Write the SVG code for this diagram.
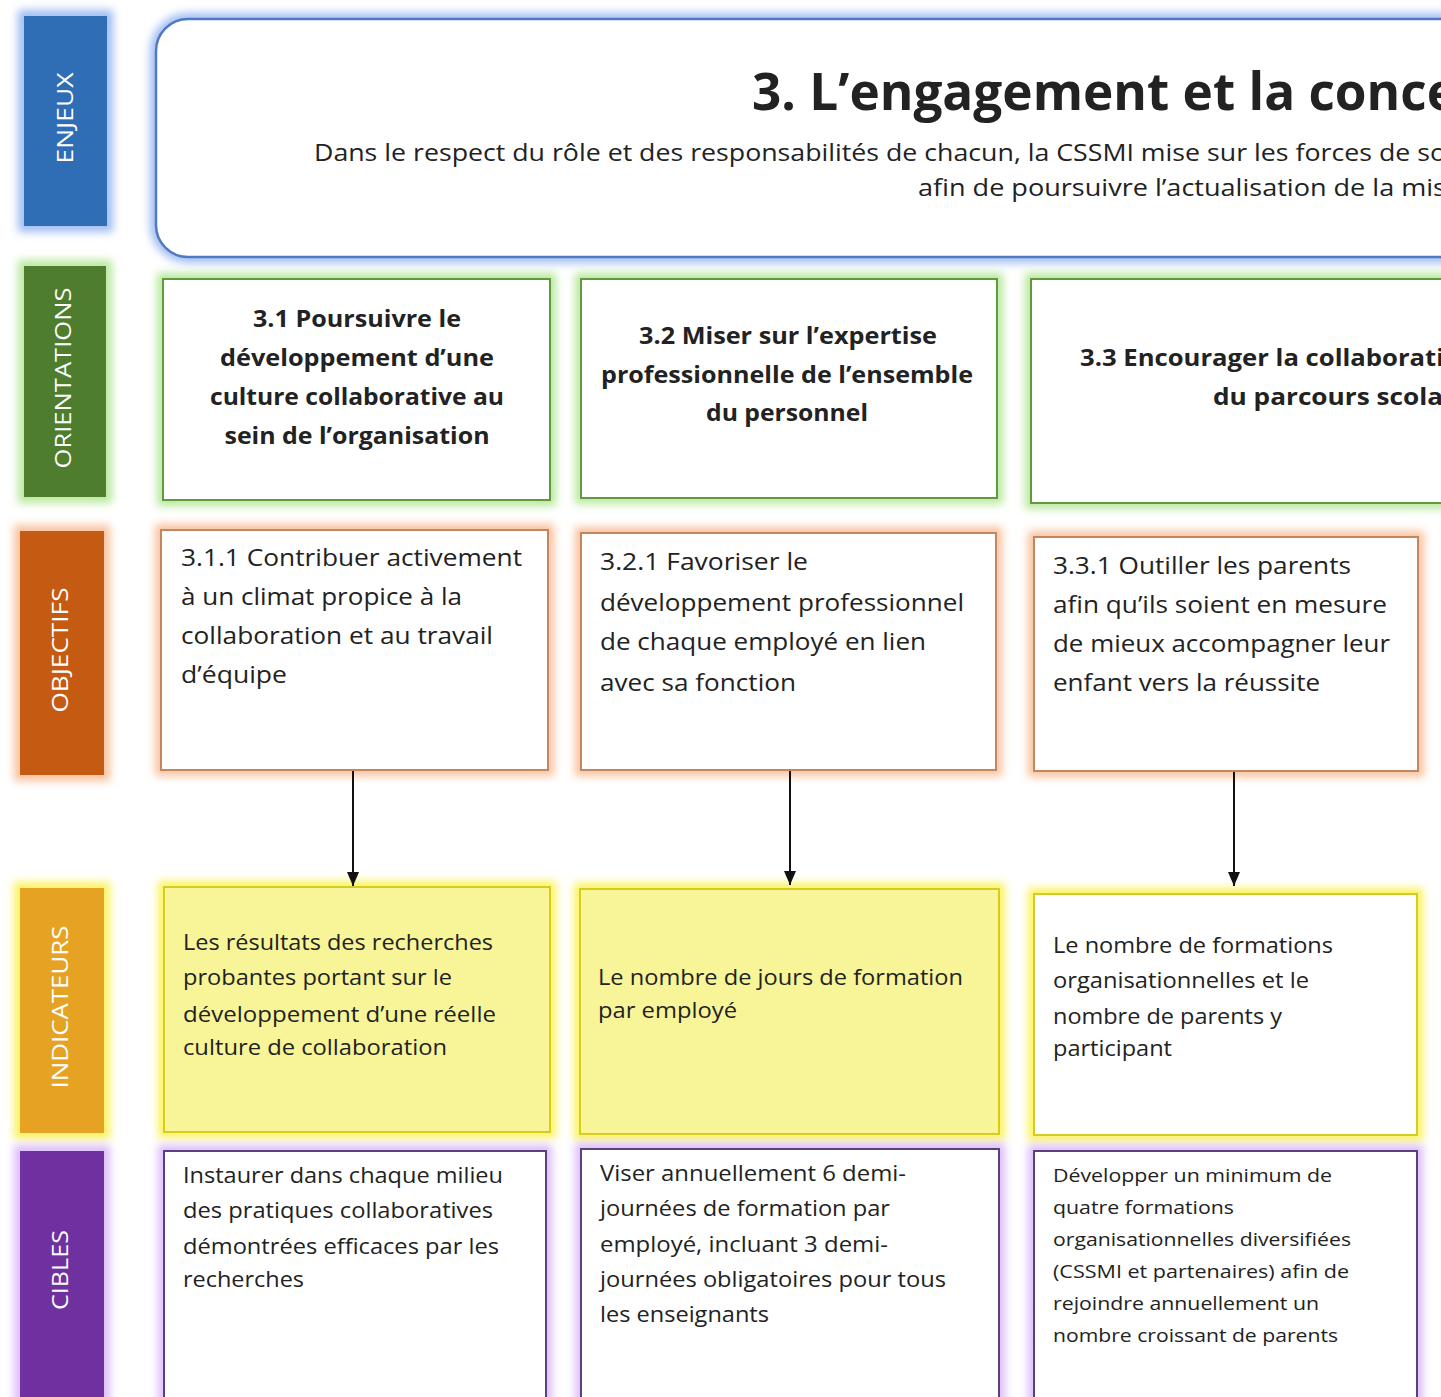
<svg xmlns="http://www.w3.org/2000/svg" width="1441" height="1397" viewBox="0 0 1441 1397">
<defs>
<filter id="blur" x="-20%" y="-20%" width="140%" height="140%"><feGaussianBlur stdDeviation="4"/></filter>
<marker id="arr" viewBox="0 0 14 12" refX="14" refY="6" markerWidth="14" markerHeight="12" markerUnits="userSpaceOnUse" orient="auto"><path d="M0,0 L14,6 L0,12 Z" fill="#111"/></marker>
<style>
text{font-family:"Open Sans","Noto Sans","Liberation Sans",sans-serif;fill:#222}
.lab{fill:#fff;font-size:22px;text-anchor:middle}
.g-blue{fill:none;stroke:#9fbcf3;stroke-width:12}
.g-green{fill:none;stroke:#b8e89c;stroke-width:12}
.g-orange{fill:none;stroke:#f8c19c;stroke-width:12}
.g-yellow{fill:none;stroke:#fbf35c;stroke-width:12}
.g-purple{fill:none;stroke:#dcbcfb;stroke-width:12}
.ori{fill:#fff;stroke:#5f9a3c;stroke-width:2}
.obj{fill:#fff;stroke:#c4875d;stroke-width:2}
.ind{fill:#f8f598;stroke:#d6cb20;stroke-width:2}
.indw{fill:#fff;stroke:#d6cb20;stroke-width:2}
.cib{fill:#fff;stroke:#5c3f7e;stroke-width:2}
.ot{font-size:24px;font-weight:bold;text-anchor:middle}
.ot3{font-size:24px;font-weight:bold}
.bt{font-size:23px}
.it{font-size:21px}
.ct{font-size:18px}
.con{stroke:#111;stroke-width:2;fill:none}
</style>
</defs>
<rect width="1441" height="1397" fill="#fff"/>

<g id="label-enjeux">
<rect class="g-blue" x="24" y="16" width="83" height="210" filter="url(#blur)"/>
<rect x="24" y="16" width="83" height="210" fill="#2f6db5"/>
<text class="lab" transform="translate(73,118) rotate(-90)" textLength="91" lengthAdjust="spacingAndGlyphs">ENJEUX</text>
</g>
<g id="label-orientations">
<rect class="g-green" x="24" y="266" width="82" height="231" filter="url(#blur)"/>
<rect x="24" y="266" width="82" height="231" fill="#4e7d2d"/>
<text class="lab" transform="translate(71,378) rotate(-90)" textLength="181" lengthAdjust="spacingAndGlyphs">ORIENTATIONS</text>
</g>
<g id="label-objectifs">
<rect class="g-orange" x="20" y="531" width="84" height="244" filter="url(#blur)"/>
<rect x="20" y="531" width="84" height="244" fill="#c55a12"/>
<text class="lab" transform="translate(68,650) rotate(-90)" textLength="125" lengthAdjust="spacingAndGlyphs">OBJECTIFS</text>
</g>
<g id="label-indicateurs">
<rect class="g-yellow" x="20" y="888" width="84" height="245" filter="url(#blur)"/>
<rect x="20" y="888" width="84" height="245" fill="#e6a323"/>
<text class="lab" transform="translate(68,1007) rotate(-90)" textLength="163" lengthAdjust="spacingAndGlyphs">INDICATEURS</text>
</g>
<g id="label-cibles">
<rect class="g-purple" x="20" y="1151" width="84" height="250" filter="url(#blur)"/>
<rect x="20" y="1151" width="84" height="250" fill="#7031a0"/>
<text class="lab" transform="translate(68,1270) rotate(-90)" textLength="80" lengthAdjust="spacingAndGlyphs">CIBLES</text>
</g>

<g id="enjeu-3">
<rect class="g-blue" x="156" y="19" width="1320" height="238" rx="32" filter="url(#blur)"/>
<rect x="156" y="19" width="1320" height="238" rx="32" fill="#fff" stroke="#4f79c2" stroke-width="2.5"/>
<text x="752" y="110" font-size="52" font-weight="bold" fill="#111" textLength="705" lengthAdjust="spacingAndGlyphs">3. L’engagement et la conce</text>
<text x="314" y="161" font-size="23" textLength="1132" lengthAdjust="spacingAndGlyphs">Dans le respect du rôle et des responsabilités de chacun, la CSSMI mise sur les forces de so</text>
<text x="918" y="196" font-size="23" textLength="528" lengthAdjust="spacingAndGlyphs">afin de poursuivre l’actualisation de la mis</text>
</g>

<g id="orientation-3-1">
<rect class="g-green" x="163" y="279" width="387" height="221" filter="url(#blur)"/>
<rect class="ori" x="163" y="279" width="387" height="221"/>
<text class="ot" x="357" y="327" textLength="208" lengthAdjust="spacingAndGlyphs">3.1 Poursuivre le</text>
<text class="ot" x="357" y="366" textLength="274" lengthAdjust="spacingAndGlyphs">développement d’une</text>
<text class="ot" x="357" y="405" textLength="294" lengthAdjust="spacingAndGlyphs">culture collaborative au</text>
<text class="ot" x="357" y="444" textLength="265" lengthAdjust="spacingAndGlyphs">sein de l’organisation</text>
</g>
<g id="orientation-3-2">
<rect class="g-green" x="581" y="279" width="416" height="219" filter="url(#blur)"/>
<rect class="ori" x="581" y="279" width="416" height="219"/>
<text class="ot" x="788" y="344" textLength="298" lengthAdjust="spacingAndGlyphs">3.2 Miser sur l’expertise</text>
<text class="ot" x="787" y="383" textLength="372" lengthAdjust="spacingAndGlyphs">professionnelle de l’ensemble</text>
<text class="ot" x="787" y="421" textLength="162" lengthAdjust="spacingAndGlyphs">du personnel</text>
</g>
<g id="orientation-3-3">
<rect class="g-green" x="1031" y="279" width="440" height="224" filter="url(#blur)"/>
<rect class="ori" x="1031" y="279" width="440" height="224"/>
<text class="ot3" x="1080" y="366" textLength="364" lengthAdjust="spacingAndGlyphs">3.3 Encourager la collaborati</text>
<text class="ot3" x="1213" y="405" textLength="230" lengthAdjust="spacingAndGlyphs">du parcours scola</text>
</g>

<g id="objectif-3-1-1">
<rect class="g-orange" x="161" y="530" width="387" height="240" filter="url(#blur)"/>
<rect class="obj" x="161" y="530" width="387" height="240"/>
<text class="bt" x="181" y="566" textLength="341" lengthAdjust="spacingAndGlyphs">3.1.1 Contribuer activement</text>
<text class="bt" x="181" y="605" textLength="281" lengthAdjust="spacingAndGlyphs">à un climat propice à la</text>
<text class="bt" x="181" y="644" textLength="312" lengthAdjust="spacingAndGlyphs">collaboration et au travail</text>
<text class="bt" x="181" y="683" textLength="106" lengthAdjust="spacingAndGlyphs">d’équipe</text>
</g>
<g id="objectif-3-2-1">
<rect class="g-orange" x="581" y="533" width="415" height="237" filter="url(#blur)"/>
<rect class="obj" x="581" y="533" width="415" height="237"/>
<text class="bt" x="600" y="570" textLength="208" lengthAdjust="spacingAndGlyphs">3.2.1 Favoriser le</text>
<text class="bt" x="600" y="611" textLength="364" lengthAdjust="spacingAndGlyphs">développement professionnel</text>
<text class="bt" x="600" y="650" textLength="326" lengthAdjust="spacingAndGlyphs">de chaque employé en lien</text>
<text class="bt" x="600" y="691" textLength="196" lengthAdjust="spacingAndGlyphs">avec sa fonction</text>
</g>
<g id="objectif-3-3-1">
<rect class="g-orange" x="1034" y="537" width="384" height="234" filter="url(#blur)"/>
<rect class="obj" x="1034" y="537" width="384" height="234"/>
<text class="bt" x="1053" y="574" textLength="298" lengthAdjust="spacingAndGlyphs">3.3.1 Outiller les parents</text>
<text class="bt" x="1053" y="613" textLength="334" lengthAdjust="spacingAndGlyphs">afin qu’ils soient en mesure</text>
<text class="bt" x="1053" y="652" textLength="337" lengthAdjust="spacingAndGlyphs">de mieux accompagner leur</text>
<text class="bt" x="1053" y="691" textLength="267" lengthAdjust="spacingAndGlyphs">enfant vers la réussite</text>
</g>

<g id="indicateur-1">
<rect class="g-yellow" x="164" y="887" width="386" height="245" filter="url(#blur)"/>
<rect class="ind" x="164" y="887" width="386" height="245"/>
<text class="it" x="183" y="950" textLength="310" lengthAdjust="spacingAndGlyphs">Les résultats des recherches</text>
<text class="it" x="183" y="985" textLength="269" lengthAdjust="spacingAndGlyphs">probantes portant sur le</text>
<text class="it" x="183" y="1022" textLength="313" lengthAdjust="spacingAndGlyphs">développement d’une réelle</text>
<text class="it" x="183" y="1055" textLength="264" lengthAdjust="spacingAndGlyphs">culture de collaboration</text>
</g>
<g id="indicateur-2">
<rect class="g-yellow" x="580" y="889" width="419" height="245" filter="url(#blur)"/>
<rect class="ind" x="580" y="889" width="419" height="245"/>
<text class="it" x="598" y="985" textLength="365" lengthAdjust="spacingAndGlyphs">Le nombre de jours de formation</text>
<text class="it" x="598" y="1018" textLength="139" lengthAdjust="spacingAndGlyphs">par employé</text>
</g>
<g id="indicateur-3">
<rect class="g-yellow" x="1034" y="894" width="383" height="241" filter="url(#blur)"/>
<rect class="indw" x="1034" y="894" width="383" height="241"/>
<text class="it" x="1053" y="953" textLength="280" lengthAdjust="spacingAndGlyphs">Le nombre de formations</text>
<text class="it" x="1053" y="988" textLength="256" lengthAdjust="spacingAndGlyphs">organisationnelles et le</text>
<text class="it" x="1053" y="1024" textLength="229" lengthAdjust="spacingAndGlyphs">nombre de parents y</text>
<text class="it" x="1053" y="1056" textLength="119" lengthAdjust="spacingAndGlyphs">participant</text>
</g>

<g id="cible-1">
<rect class="g-purple" x="164" y="1151" width="382" height="260" filter="url(#blur)"/>
<rect class="cib" x="164" y="1151" width="382" height="260"/>
<text class="it" x="183" y="1183" textLength="320" lengthAdjust="spacingAndGlyphs">Instaurer dans chaque milieu</text>
<text class="it" x="183" y="1218" textLength="310" lengthAdjust="spacingAndGlyphs">des pratiques collaboratives</text>
<text class="it" x="183" y="1254" textLength="316" lengthAdjust="spacingAndGlyphs">démontrées efficaces par les</text>
<text class="it" x="183" y="1287" textLength="121" lengthAdjust="spacingAndGlyphs">recherches</text>
</g>
<g id="cible-2">
<rect class="g-purple" x="581" y="1149" width="418" height="260" filter="url(#blur)"/>
<rect class="cib" x="581" y="1149" width="418" height="260"/>
<text class="it" x="600" y="1181" textLength="306" lengthAdjust="spacingAndGlyphs">Viser annuellement 6 demi-</text>
<text class="it" x="600" y="1216" textLength="290" lengthAdjust="spacingAndGlyphs">journées de formation par</text>
<text class="it" x="600" y="1252" textLength="288" lengthAdjust="spacingAndGlyphs">employé, incluant 3 demi-</text>
<text class="it" x="600" y="1287" textLength="346" lengthAdjust="spacingAndGlyphs">journées obligatoires pour tous</text>
<text class="it" x="600" y="1322" textLength="169" lengthAdjust="spacingAndGlyphs">les enseignants</text>
</g>
<g id="cible-3">
<rect class="g-purple" x="1034" y="1151" width="383" height="260" filter="url(#blur)"/>
<rect class="cib" x="1034" y="1151" width="383" height="260"/>
<text class="ct" x="1053" y="1182" textLength="279" lengthAdjust="spacingAndGlyphs">Développer un minimum de</text>
<text class="ct" x="1053" y="1214" textLength="181" lengthAdjust="spacingAndGlyphs">quatre formations</text>
<text class="ct" x="1053" y="1246" textLength="298" lengthAdjust="spacingAndGlyphs">organisationnelles diversifiées</text>
<text class="ct" x="1053" y="1278" textLength="296" lengthAdjust="spacingAndGlyphs">(CSSMI et partenaires) afin de</text>
<text class="ct" x="1053" y="1310" textLength="266" lengthAdjust="spacingAndGlyphs">rejoindre annuellement un</text>
<text class="ct" x="1053" y="1342" textLength="285" lengthAdjust="spacingAndGlyphs">nombre croissant de parents</text>
</g>

<g id="connectors">
<line class="con" x1="353" y1="771" x2="353" y2="886" marker-end="url(#arr)"/>
<line class="con" x1="790" y1="771" x2="790" y2="885" marker-end="url(#arr)"/>
<line class="con" x1="1234" y1="772" x2="1234" y2="886" marker-end="url(#arr)"/>
</g>
</svg>
